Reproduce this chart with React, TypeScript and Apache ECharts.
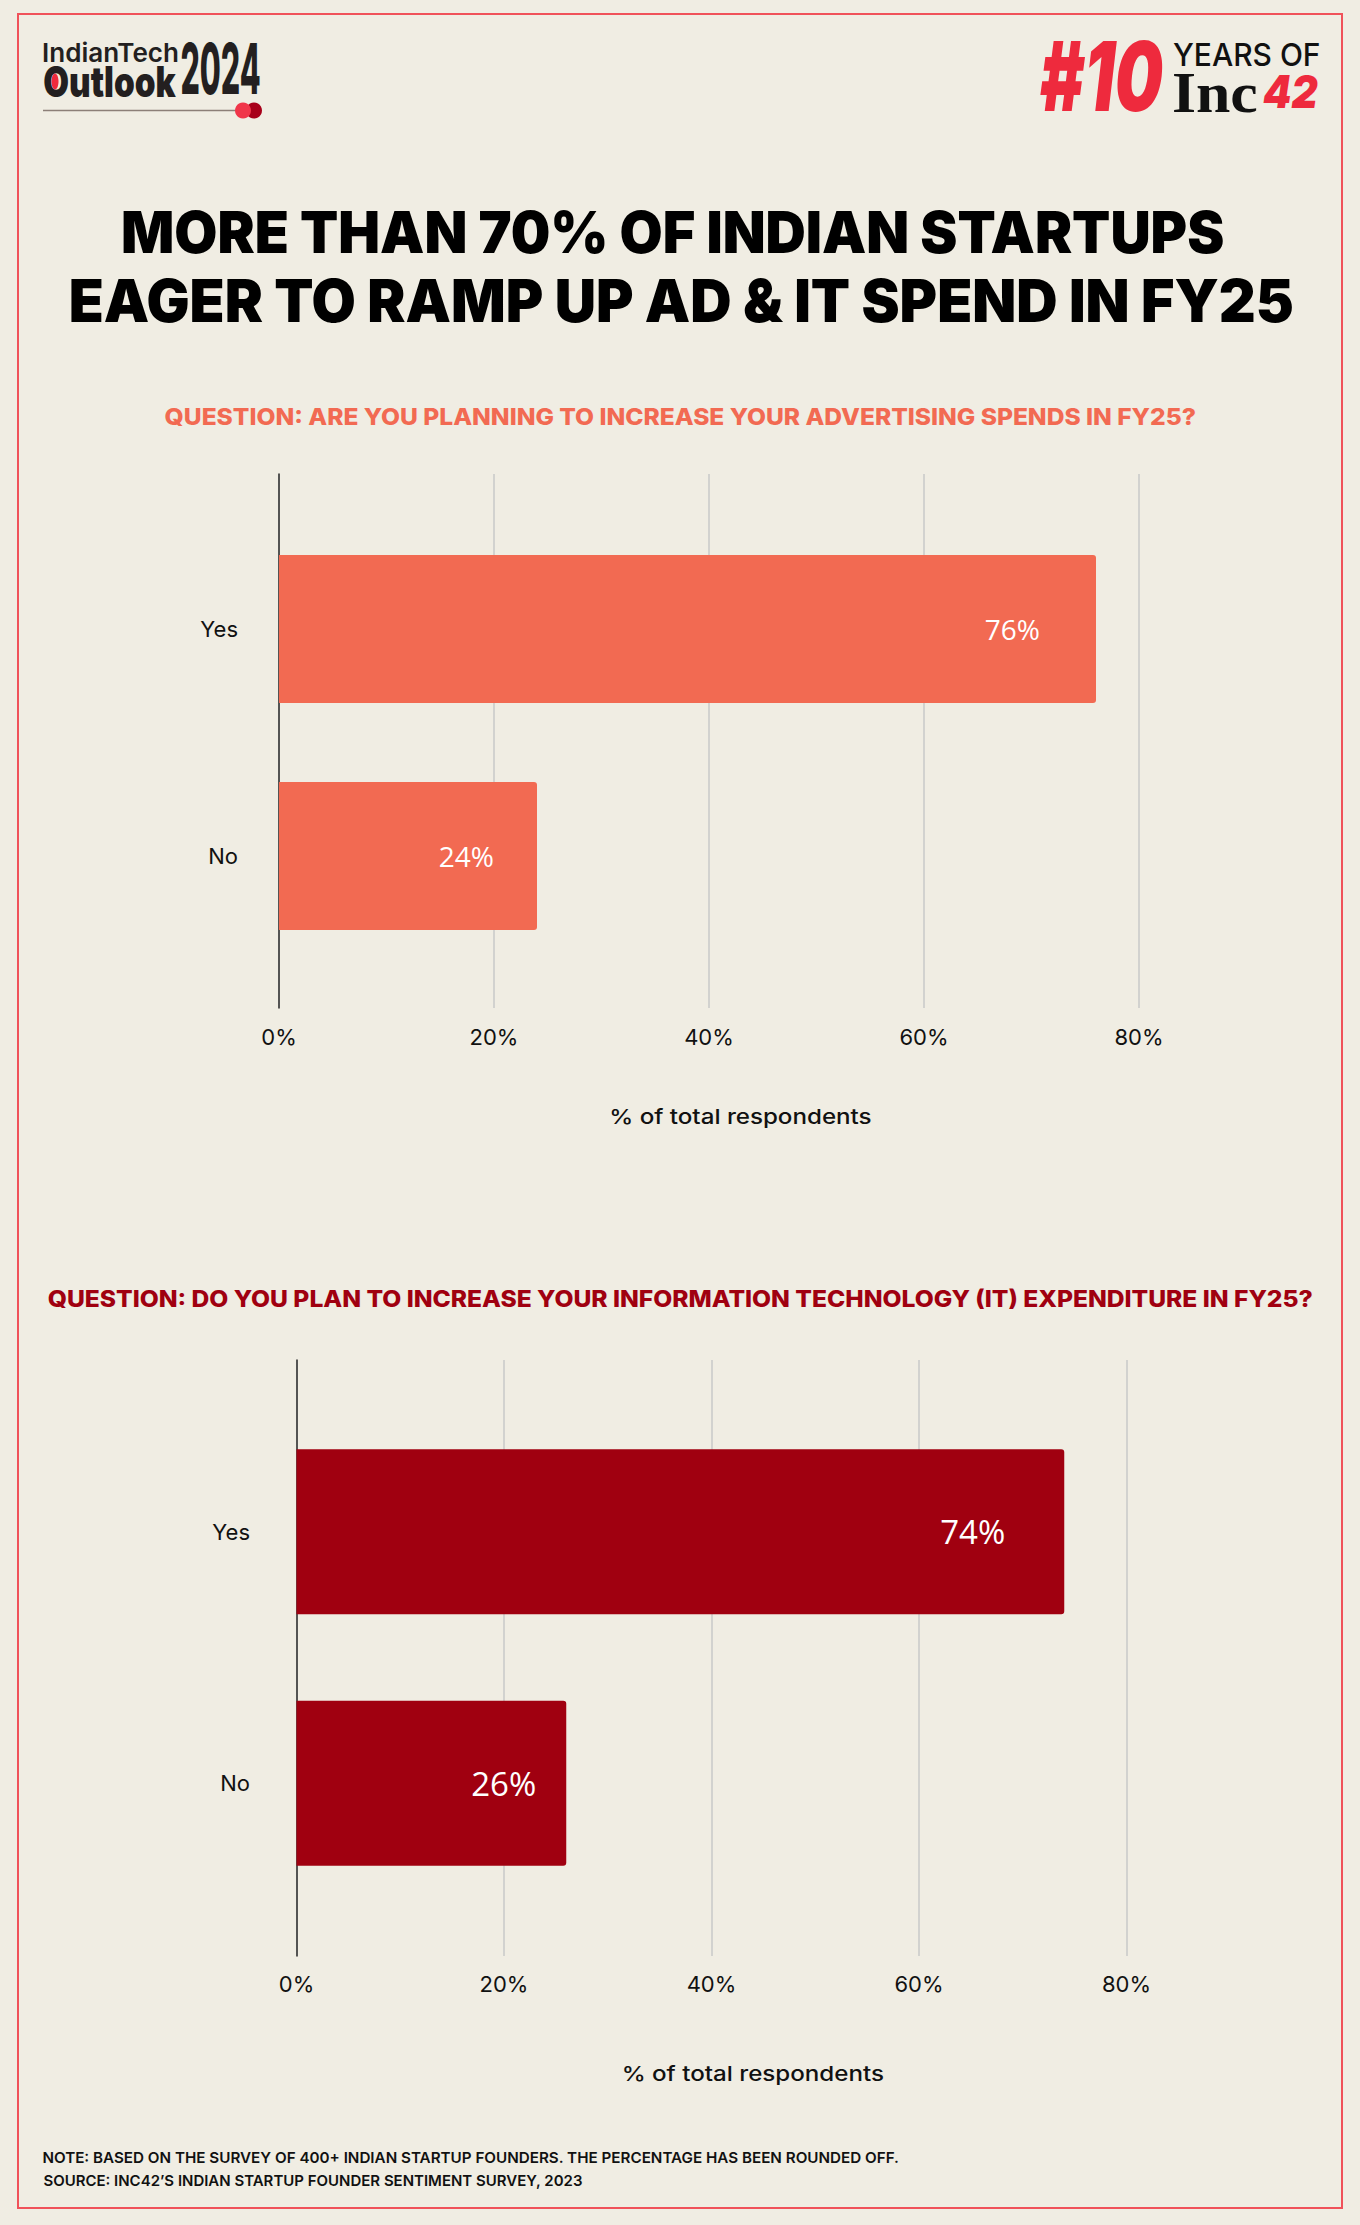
import React, { useEffect, useRef } from "react";
import * as echarts from "echarts";

const W = 1360;
const H = 2225;

// ---------- data ----------
const adCategories = ["Yes", "No"];
const adValues = [76, 24];
const itCategories = ["Yes", "No"];
const itValues = [74, 26];
const axisMin = 0;
const axisMax = 80;
const axisStep = 20;

const titleLines = [
  "MORE THAN 70% OF INDIAN STARTUPS",
  "EAGER TO RAMP UP AD & IT SPEND IN FY25",
];
const question1 = "QUESTION: ARE YOU PLANNING TO INCREASE YOUR ADVERTISING SPENDS IN FY25?";
const question2 =
  "QUESTION: DO YOU PLAN TO INCREASE YOUR INFORMATION TECHNOLOGY (IT) EXPENDITURE IN FY25?";
const axisTitle = "% of total respondents";
const noteLines = [
  "NOTE: BASED ON THE SURVEY OF 400+ INDIAN STARTUP FOUNDERS. THE PERCENTAGE HAS BEEN ROUNDED OFF.",
  "SOURCE: INC42\u2019S INDIAN STARTUP FOUNDER SENTIMENT SURVEY, 2023",
];

// ---------- styles ----------
const BG = "#f0ede3";
const BORDER = "#f0525a";
const CORAL = "#f26a52";
const DARKRED = "#a00010";
const LOGO_RED = "#ee2a3d";
const adLabelGaps = [56, 43];
const itLabelGaps = [59, 30];

let _ctx: CanvasRenderingContext2D | null = null;
function measure(text: string, font: string) {
  if (!_ctx) _ctx = document.createElement("canvas").getContext("2d");
  _ctx!.font = font;
  return _ctx!.measureText(text);
}

function fitText(
  text: string,
  left: number,
  capTop: number,
  capBottom: number,
  width: number,
  family: string,
  weight: string | number,
  fill: string,
  fontStyle = "normal"
) {
  const probe = 100;
  const pf = `${fontStyle} ${weight} ${probe}px ${family}`;
  const hm = measure("H", pf);
  const capRatio = (hm.actualBoundingBoxAscent || 72) / probe;
  const fontSize = (capBottom - capTop) / capRatio;
  const font = `${fontStyle} ${weight} ${fontSize.toFixed(2)}px ${family}`;
  const m = measure(text, font);
  const abl = m.actualBoundingBoxLeft || 0;
  const abr = m.actualBoundingBoxRight || m.width;
  const inkW = abl + abr;
  const scaleX = width / inkW;
  const asc = (m as any).fontBoundingBoxAscent ?? fontSize * 0.95;
  const desc = (m as any).fontBoundingBoxDescent ?? fontSize * 0.25;
  const y = capBottom - (asc - desc) / 2;
  return {
    type: "text",
    x: left + abl * scaleX,
    y,
    scaleX,
    silent: true,
    style: {
      text,
      fill,
      font,
      textAlign: "left",
      textVerticalAlign: "middle",
      align: "left",
      verticalAlign: "middle",
    },
  };
}

function buildOption() {
  const graphics: any[] = [
    {
      type: "rect",
      shape: { x: 18, y: 14, width: 1324, height: 2194 },
      style: { fill: "none", stroke: BORDER, lineWidth: 2 },
      silent: true,
    },
    // left logo
    fitText("IndianTech", 43, 42.7, 61.7, 135, "Inter", 600, "#231f20"),
    fitText("Outlook", 44, 65.7, 96.7, 132, "Inter", 900, "#231f20"),
    fitText("2024", 181.7, 43, 94, 78, "Inter", 800, "#231f20"),
    {
      type: "ellipse",
      shape: { cx: 55, cy: 81.5, rx: 3.5, ry: 8 },
      style: { fill: LOGO_RED },
      silent: true,
    },
    {
      type: "line",
      shape: { x1: 43, y1: 110.5, x2: 242, y2: 110.5 },
      style: { stroke: "#8c7f78", lineWidth: 1.5 },
      silent: true,
    },
    { type: "circle", shape: { cx: 254, cy: 110.5, r: 8 }, style: { fill: "#a8001a" }, silent: true },
    { type: "circle", shape: { cx: 243, cy: 110.5, r: 8 }, style: { fill: "#f0364a" }, silent: true },
    // right logo
    fitText("#10", 1040, 41.7, 111.7, 125, "Inter", 900, LOGO_RED, "italic"),
    fitText("YEARS OF", 1173, 42.7, 65.7, 146, "Inter", 500, "#111111"),
    fitText("Inc", 1173, 74, 111.7, 84, "Liberation Serif", 700, "#111111"),
    fitText("42", 1263, 74, 107.3, 56, "Inter", 900, LOGO_RED, "italic"),
    // title
    fitText(titleLines[0], 123, 210.7, 253, 1100, "Inter", 900, "#000000"),
    fitText(titleLines[1], 70.7, 280, 322.7, 1221, "Inter", 900, "#000000"),
    // questions
    fitText(question1, 164.6, 408.3, 425.3, 1031, "Inter", 800, CORAL),
    fitText(question2, 47.7, 1291, 1307.5, 1266, "Inter", 800, DARKRED),
    // axis titles
    fitText(axisTitle, 611.6, 1108.5, 1123.5, 260, "Inter", 500, "#111111"),
    fitText(axisTitle, 624, 2065.5, 2080.5, 260, "Inter", 500, "#111111"),
    // notes
    fitText(noteLines[0], 43.4, 2151.7, 2162.7, 856, "Inter", 600, "#111111"),
    fitText(noteLines[1], 43.4, 2174.7, 2185.7, 539, "Inter", 600, "#111111"),
  ];

  const decoX = (gridIndex: number, margin: number) => ({
    type: "value",
    gridIndex,
    min: axisMin,
    max: axisMax,
    interval: axisStep,
    axisLine: { show: false },
    axisTick: { show: false },
    splitLine: { show: true, lineStyle: { color: "#c8c8c8", width: 1.5 } },
    axisLabel: {
      formatter: "{value}%",
      fontSize: 22,
      color: "#111111",
      fontFamily: "Inter",
      margin,
    },
  });
  const barX = (gridIndex: number) => ({
    type: "value",
    gridIndex,
    min: axisMin,
    max: axisMax,
    show: false,
    splitLine: { show: false },
  });
  const decoY = (gridIndex: number) => ({
    type: "value",
    gridIndex,
    min: 0,
    max: 1,
    axisLine: { show: true, onZero: false, lineStyle: { color: "#2a2a2a", width: 1.5 } },
    axisTick: { show: false },
    axisLabel: { show: false },
    splitLine: { show: false },
  });
  const barY = (gridIndex: number, cats: string[], margin: number) => ({
    type: "category",
    gridIndex,
    data: cats,
    inverse: true,
    axisLine: { show: false },
    axisTick: { show: false },
    splitLine: { show: false },
    axisLabel: { fontSize: 22, color: "#111111", fontFamily: "Inter", margin },
  });

  const barSeries = (
    idx: number,
    values: number[],
    gaps: number[],
    color: string,
    barWidth: number,
    fontSize: number
  ) => ({
    type: "bar",
    xAxisIndex: idx,
    yAxisIndex: idx,
    barWidth,
    silent: true,
    data: values.map((v, i) => ({ value: v, label: { distance: gaps[i] } })),
    itemStyle: { color, borderRadius: [0, 3, 3, 0] },
    label: {
      show: true,
      position: "insideRight",
      color: "#ffffff",
      fontSize,
      fontFamily: "Open Sans",
      formatter: "{c}%",
    },
  });

  return {
    animation: false,
    backgroundColor: BG,
    grid: [
      { left: 279, top: 474, width: 860, height: 534 },
      { left: 279, top: 515.5, width: 860, height: 454 },
      { left: 296.5, top: 1360, width: 830, height: 596 },
      { left: 296.5, top: 1406, width: 830, height: 503 },
    ],
    xAxis: [decoX(0, 18), barX(1), decoX(2, 17), barX(3)],
    yAxis: [decoY(0), barY(1, adCategories, 41), decoY(2), barY(3, itCategories, 46.5)],
    series: [
      barSeries(1, adValues, adLabelGaps, CORAL, 148, 28),
      barSeries(3, itValues, itLabelGaps, DARKRED, 165, 33),
    ],
    graphic: graphics,
  };
}

export default function App() {
  const ref = useRef<HTMLDivElement>(null);
  useEffect(() => {
    document.body.style.margin = "0";
    const chart = echarts.init(ref.current!, null, { renderer: "svg", width: W, height: H });
    chart.setOption(buildOption() as any);
    return () => chart.dispose();
  }, []);
  return (
    <div
      ref={ref}
      style={{ position: "absolute", left: 0, top: 0, width: W, height: H, background: BG }}
    />
  );
}
